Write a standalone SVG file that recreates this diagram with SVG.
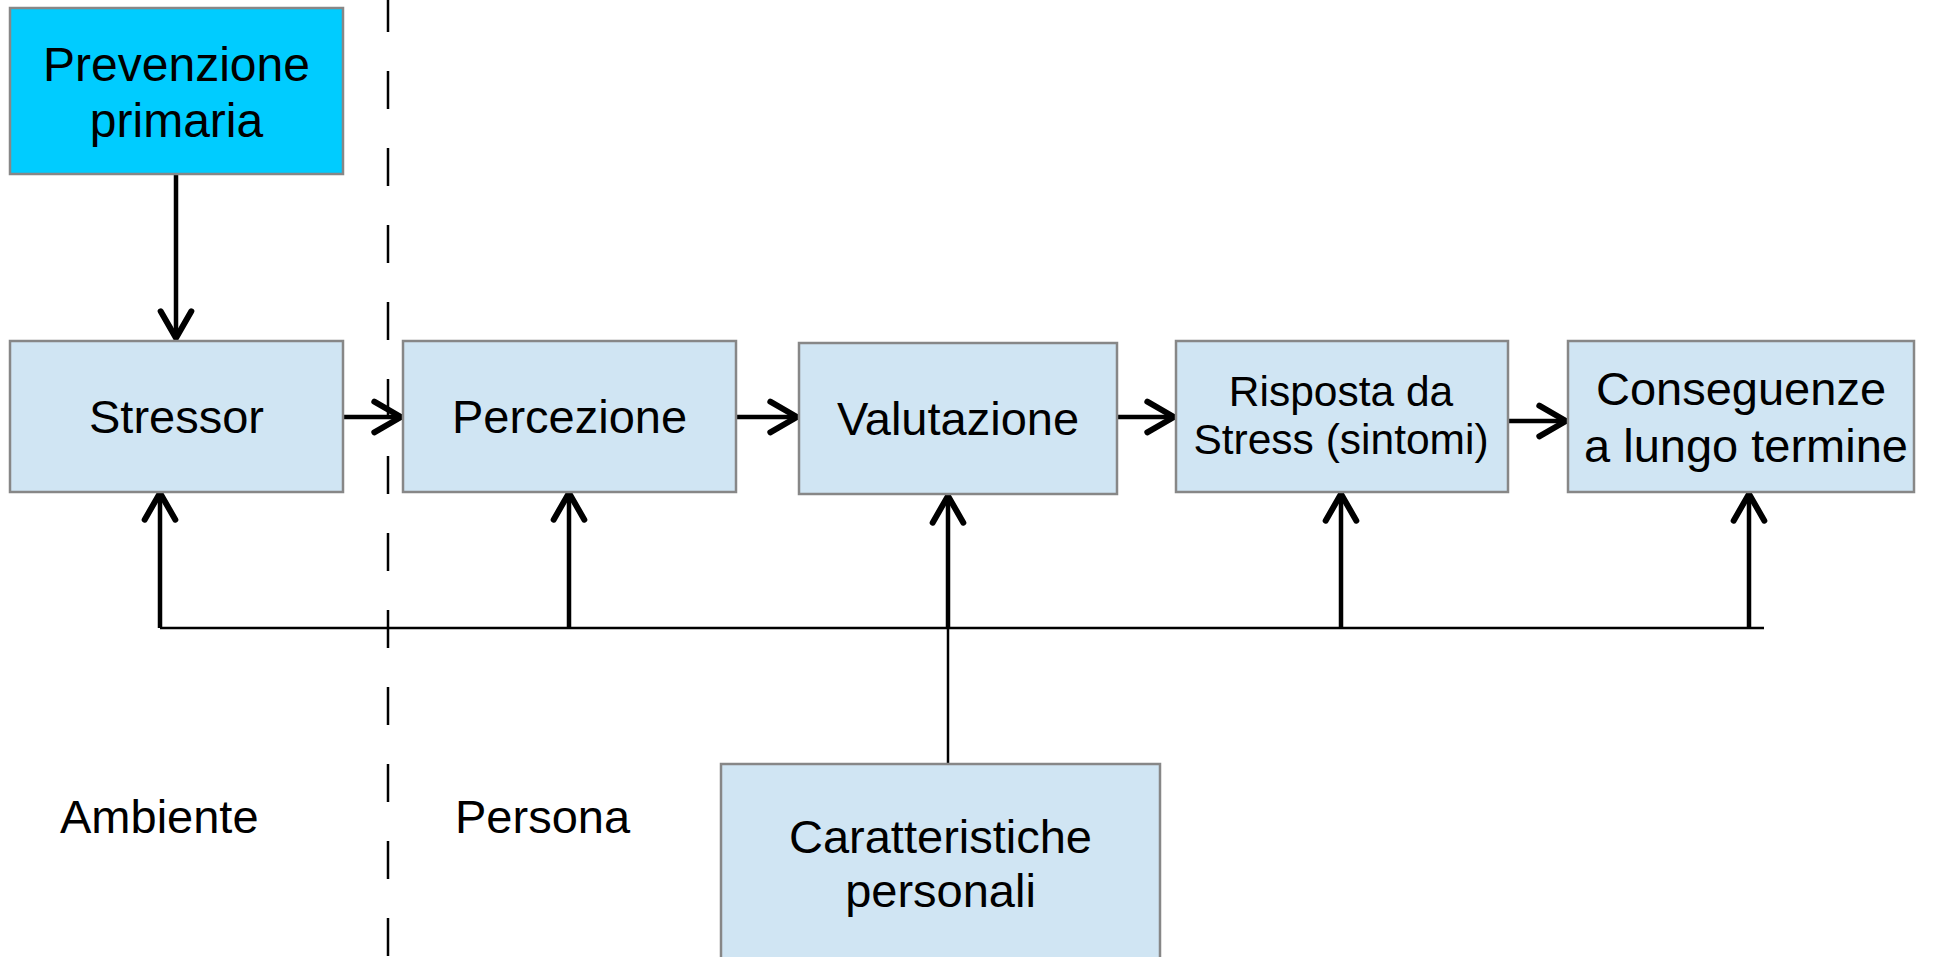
<svg xmlns="http://www.w3.org/2000/svg" width="1935" height="957" viewBox="0 0 1935 957">
<style>
.box{fill:#D0E5F3;stroke:#878787;stroke-width:2.5}
.prev{fill:#00CCFF;stroke:#878787;stroke-width:2.5}
.t{font-family:"Liberation Sans",Arial,sans-serif;font-size:47px;fill:#000;text-anchor:middle}
.t48{font-size:48px}
.t42{font-size:42.5px}
.lbl{font-family:"Liberation Sans",Arial,sans-serif;font-size:47px;fill:#000}
.arr{stroke:#000;stroke-width:4.5;fill:none;marker-end:url(#head)}
.thin{stroke:#000;stroke-width:2.5;fill:none}
</style>
<defs>
<marker id="head" markerUnits="userSpaceOnUse" markerWidth="40" markerHeight="40" refX="0" refY="0" viewBox="-25 -15 30 30" orient="auto" overflow="visible">
<path d="M-20,-11.5 L0,0 L-20,11.5" fill="none" stroke="#000" stroke-width="4.5" stroke-linecap="round" stroke-linejoin="round"/>
</marker>
</defs>
<rect width="1935" height="957" fill="#fff"/>
<line x1="388" y1="0" x2="388" y2="957" stroke="#000" stroke-width="2.5" stroke-dasharray="38 39" stroke-dashoffset="6"/>
<g id="connectors">
<line class="arr" x1="176" y1="174" x2="176" y2="338"/>
<line class="arr" x1="343" y1="417" x2="401" y2="417"/>
<line class="arr" x1="736" y1="417" x2="797" y2="417"/>
<line class="arr" x1="1117" y1="417" x2="1174" y2="417"/>
<line class="arr" x1="1508" y1="421" x2="1566" y2="421"/>
<line class="thin" x1="160" y1="628" x2="1764" y2="628"/>
<line class="thin" x1="948" y1="764" x2="948" y2="628"/>
<line class="arr" x1="160" y1="628" x2="160" y2="493"/>
<line class="arr" x1="569" y1="628" x2="569" y2="493"/>
<line class="arr" x1="948" y1="628" x2="948" y2="496"/>
<line class="arr" x1="1341" y1="628" x2="1341" y2="494"/>
<line class="arr" x1="1749" y1="628" x2="1749" y2="494"/>
</g>
<g id="prevenzione">
<rect class="prev" x="10" y="8" width="333" height="166"/>
<text class="t t48" x="176.5" y="81">Prevenzione</text>
<text class="t t48" x="176.5" y="137">primaria</text>
</g>
<g id="stressor">
<rect class="box" x="10" y="341" width="333" height="151"/>
<text class="t" x="176.5" y="433">Stressor</text>
</g>
<g id="percezione">
<rect class="box" x="403" y="341" width="333" height="151"/>
<text class="t" x="569.5" y="433">Percezione</text>
</g>
<g id="valutazione">
<rect class="box" x="799" y="343" width="318" height="151"/>
<text class="t" x="958" y="435">Valutazione</text>
</g>
<g id="risposta">
<rect class="box" x="1176" y="341" width="332" height="151"/>
<text class="t t42" x="1341" y="406">Risposta da</text>
<text class="t t42" x="1341" y="454">Stress (sintomi)</text>
</g>
<g id="conseguenze">
<rect class="box" x="1568" y="341" width="346" height="151"/>
<text class="t" x="1741" y="405">Conseguenze</text>
<text class="t" x="1746" y="462">a lungo termine</text>
</g>
<g id="caratteristiche">
<rect class="box" x="721" y="764" width="439" height="210"/>
<text class="t" x="940.5" y="853">Caratteristiche</text>
<text class="t" x="940.5" y="907">personali</text>
</g>
<g id="labels">
<text class="lbl" x="60" y="833">Ambiente</text>
<text class="lbl" x="455" y="833">Persona</text>
</g>
</svg>
